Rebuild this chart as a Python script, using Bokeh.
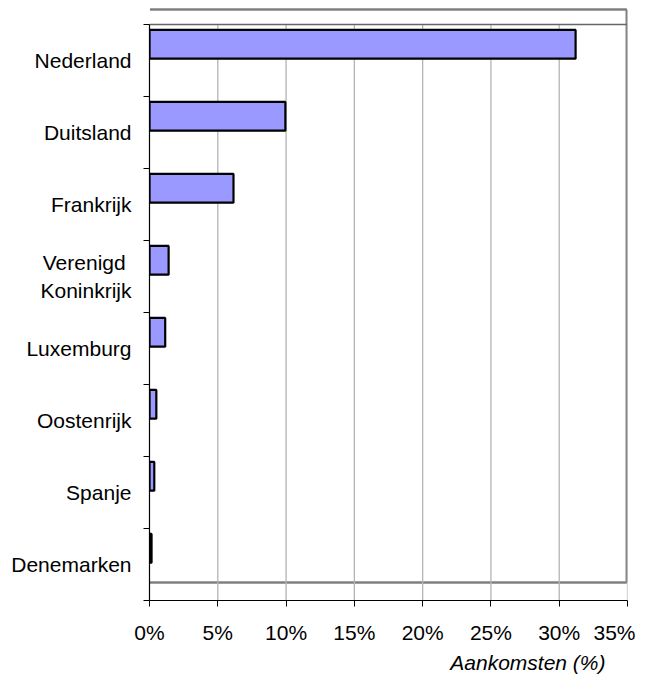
from bokeh.plotting import figure
from bokeh.models import FixedTicker, Span, Title, ColumnDataSource
from bokeh.embed import file_html
from bokeh.resources import INLINE

countries = ["Nederland", "Duitsland", "Frankrijk", "Verenigd \nKoninkrijk",
             "Luxemburg", "Oostenrijk", "Spanje", "Denemarken"]
values = [31.2, 9.95, 6.15, 1.4, 1.15, 0.5, 0.35, 0.15]
xticks = [0, 5, 10, 15, 20, 25, 30, 35]
xtick_labels = ["0%", "5%", "10%", "15%", "20%", "25%", "30%", "35%"]

n = len(countries)
pos = [n - 1 - i + 0.5 for i in range(n)]          # category centres
bar_pos = [p_ + 0.225 for p_ in pos]               # bars sit in upper part of band

FONT = "Liberation Sans"
FS = "21px"

p = figure(frame_width=478, frame_height=596, output_backend="svg", toolbar_location=None,
           x_range=(0, 35), y_range=(0, n + 20 / 72),
           min_border_left=149, min_border_right=8, min_border_top=4,
           min_border_bottom=4)
p.title.visible = False
p.outline_line_color = None
p.background_fill_color = "white"
p.xgrid.grid_line_color = None
p.ygrid.grid_line_color = None

# grey plot-area frame
FRAME_TOP = n + 15 / 72
FRAME_BOTTOM = 0.25
p.segment(x0=[0.03, 0.03, 34.95], x1=[34.95, 34.95, 34.95],
          y0=[FRAME_TOP, FRAME_BOTTOM, FRAME_BOTTOM], y1=[FRAME_TOP, FRAME_BOTTOM, FRAME_TOP],
          line_color="#808080", line_width=2.6)

# vertical gridlines limited to the data band
p.segment(x0=xticks[1:], x1=xticks[1:], y0=[0] * 7, y1=[n] * 7,
          line_color="#b4b4b4", line_width=1.3)
# top line of the category band
p.segment(x0=[0], x1=[34.95], y0=[n], y1=[n], line_color="#666666", line_width=1.3)

src = ColumnDataSource(dict(y=bar_pos, v=values))
p.hbar(y="y", left=0, right="v", height=0.40, source=src,
       fill_color="#9999ff", line_color="black", line_width=2.2)

# x axis
xa = p.xaxis[0]
xa.ticker = FixedTicker(ticks=xticks, minor_ticks=[])
xa.major_label_overrides = {t: l for t, l in zip(xticks, xtick_labels)}
xa.major_label_text_font = FONT
xa.major_label_text_font_size = FS
xa.major_label_text_color = "black"
xa.major_tick_out = 6
xa.major_tick_in = 0
xa.major_tick_line_color = "black"
xa.axis_line_color = "black"
xa.axis_line_width = 1.2
xa.major_label_standoff = 14

# y axis
ya = p.yaxis[0]
ya.ticker = FixedTicker(ticks=pos, minor_ticks=list(range(n + 1)))
ya.major_label_overrides = {pp: c for pp, c in zip(pos, countries)}
ya.major_label_text_font = FONT
ya.major_label_text_font_size = FS
ya.major_label_text_color = "black"
ya.major_tick_line_color = None
ya.major_tick_out = 6
ya.major_tick_in = 0
ya.minor_tick_out = 6
ya.minor_tick_in = 0
ya.minor_tick_line_color = "black"
ya.axis_line_color = "black"
ya.axis_line_width = 1.2
ya.bounds = (0, n)
ya.major_label_standoff = 12

p.add_layout(Title(text="Aankomsten (%)", align="right", text_font=FONT,
                   text_font_size=FS, text_font_style="italic",
                   text_color="black", offset=22, standoff=4), "below")

open("out.html", "w").write(file_html(p, INLINE))
